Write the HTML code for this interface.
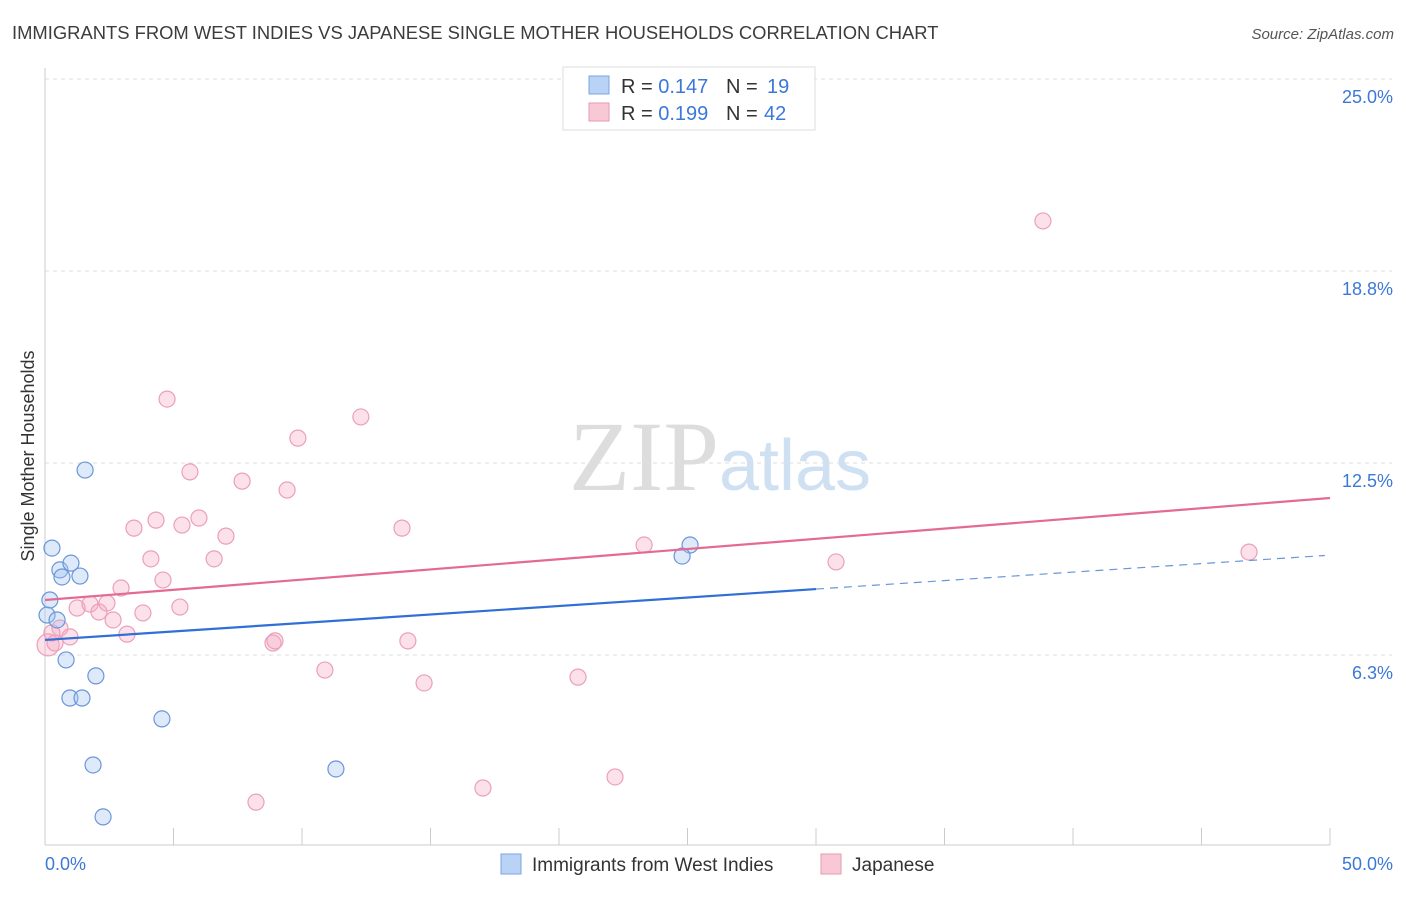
<!DOCTYPE html>
<html><head><meta charset="utf-8"><style>
body{margin:0;background:#fff;font-family:"Liberation Sans",sans-serif;}
svg text{font-family:"Liberation Sans",sans-serif;}
</style></head><body>
<svg id="c" width="1406" height="892" xmlns="http://www.w3.org/2000/svg">
<text x="12" y="39" font-size="18.4" fill="#3c3c3c">IMMIGRANTS FROM WEST INDIES VS JAPANESE SINGLE MOTHER HOUSEHOLDS CORRELATION CHART</text>
<text x="1394" y="39" font-size="15" fill="#555" text-anchor="end" font-style="italic">Source: ZipAtlas.com</text>
<text x="720" y="490" font-size="100" text-anchor="middle"><tspan fill="#ddd" font-family="Liberation Serif">ZIP</tspan><tspan fill="#cfe0f3" font-size="72">atlas</tspan></text>
<g id="grid"></g><g id="axes"></g><g id="marks"></g>
<text transform="translate(34,456) rotate(-90)" font-size="18" fill="#333" text-anchor="middle">Single Mother Households</text>
<g>
<rect x="563" y="67" width="252" height="63" fill="#fff" stroke="#ddd"/>
<rect x="589" y="76" width="20" height="18" fill="#b8d3f5" stroke="#7aa6e0"/>
<text x="621" y="93" font-size="20" fill="#333">R = <tspan fill="#3b78d8">0.147</tspan></text>
<text x="726" y="93" font-size="20" fill="#333">N = </text><text x="767" y="93" font-size="20" fill="#3b78d8">19</text>
<rect x="589" y="103" width="20" height="18" fill="#f9c8d6" stroke="#e89ab2"/>
<text x="621" y="120" font-size="20" fill="#333">R = <tspan fill="#3b78d8">0.199</tspan></text>
<text x="726" y="120" font-size="20" fill="#333">N = </text><text x="764" y="120" font-size="20" fill="#3b78d8">42</text>
</g>
<g>
<rect x="501" y="854" width="20" height="20" fill="#b8d3f5" stroke="#7aa6e0"/>
<text x="532" y="871" font-size="19" fill="#333">Immigrants from West Indies</text>
<rect x="821" y="854" width="20" height="20" fill="#f9c8d6" stroke="#e89ab2"/>
<text x="852" y="871" font-size="19" fill="#333">Japanese</text>
</g>
</svg>
<script>
const yTicks=[6.25,12.5,18.75,25];
const yTickLabels=["6.3%","12.5%","18.8%","25.0%"];
const blueX=[0.27,0.19,0.08,0.47,0.58,0.66,1.01,1.36,1.56,0.82,0.97,1.44,1.98,4.55,1.87,2.26,11.32,25.1,24.79];
const blueY=[9.73,8.04,7.55,7.39,9.02,8.79,9.24,8.82,12.27,6.09,4.85,4.85,5.57,4.17,2.67,0.98,2.54,9.83,9.47];
const pinkX=[0.12,0.39,0.58,0.97,1.25,1.75,2.1,2.41,2.65,2.96,3.19,3.46,3.81,4.12,4.32,4.59,4.75,5.25,5.33,5.64,5.99,6.58,7.04,7.67,8.21,8.87,8.95,9.42,9.84,10.89,12.29,13.89,14.12,14.75,17.04,20.74,22.18,23.31,30.78,38.83,46.85,0.27];
const pinkY=[6.58,6.64,7.13,6.84,7.78,7.91,7.65,7.94,7.39,8.43,6.93,10.38,7.62,9.38,10.64,8.69,14.58,7.81,10.48,12.21,10.71,9.38,10.12,11.91,1.46,6.64,6.71,11.62,13.31,5.76,14.0,10.38,6.71,5.34,1.92,5.53,2.28,9.83,9.28,20.38,9.6,6.97];
const blueLine=[6.74,9.5], pinkLine=[8.04,11.36];
const ns="http://www.w3.org/2000/svg";
const X=v=>45+v*25.7, Y=v=>847-v*30.72;
function mk(t,a,p){const e=document.createElementNS(ns,t);for(const k in a)e.setAttribute(k,a[k]);document.getElementById(p).appendChild(e);return e;}
yTicks.forEach((t,i)=>{
 const l=mk('line',{x1:45,x2:1392,y1:Y(t),y2:Y(t),stroke:'#ddd','stroke-dasharray':'4,4'},'grid');
 
 
 const tx=mk('text',{x:1393,y:Y(t)+24,'font-size':18,fill:'#3b78d8','text-anchor':'end'},'axes');
 tx.textContent=yTickLabels[i];
 
 
});
const ax=mk('line',{x1:45,x2:1330,y1:845,y2:845,stroke:'#ccc'},'axes');


const ay=mk('line',{x1:45,x2:45,y1:68,y2:845,stroke:'#ccc'},'axes');


for(let i=0;i<=10;i++){const t=mk('line',{x1:X(i*5),x2:X(i*5),y1:828,y2:845,stroke:'#ccc'},'axes');
 
 }
[["0.0%",45,"start"],["50.0%",1393,"end"]].forEach(a=>{const t=mk('text',{x:a[1],y:870,'font-size':18,fill:'#3b78d8','text-anchor':a[2]},'axes');t.textContent=a[0];
 
 });
pinkX.forEach((x,i)=>{const c=mk('circle',{cx:X(x),cy:Y(pinkY[i]),r:i==0?11:8,fill:'rgba(246,170,195,0.35)',stroke:'#eaa0b8','stroke-width':1.2},'marks');
 
 });
blueX.forEach((x,i)=>{const c=mk('circle',{cx:X(x),cy:Y(blueY[i]),r:8,fill:'rgba(160,195,240,0.35)',stroke:'#6a96d8','stroke-width':1.2},'marks');
 
 });
const yb=x=>blueLine[0]+(blueLine[1]-blueLine[0])*x/50;
const bl=mk('line',{x1:X(0),y1:Y(yb(0)),x2:X(30),y2:Y(yb(30)),stroke:'#2f6fd6','stroke-width':2.2},'marks');


const bd=mk('line',{x1:X(30),y1:Y(yb(30)),x2:X(49.8),y2:Y(yb(49.8)),stroke:'#6a96d8','stroke-width':1.2,'stroke-dasharray':'8,6'},'marks');


const pl=mk('line',{x1:X(0),y1:Y(pinkLine[0]),x2:X(50),y2:Y(pinkLine[1]),stroke:'#e36a93','stroke-width':2.2},'marks');


</script>
</body></html>
